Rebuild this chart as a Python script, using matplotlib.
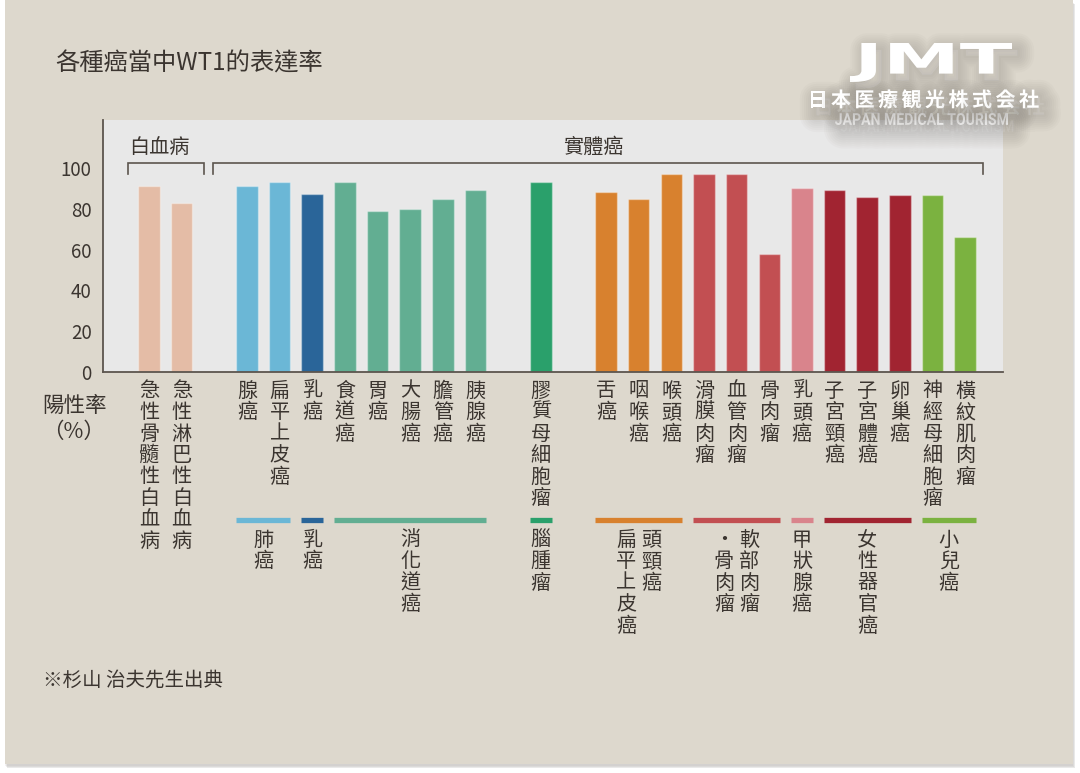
import matplotlib
matplotlib.use("Agg")
import matplotlib.pyplot as plt
import matplotlib.patheffects as pe
from matplotlib.patches import Rectangle, PathPatch
from matplotlib.textpath import TextPath
from matplotlib.font_manager import FontProperties
from matplotlib.transforms import Affine2D, blended_transform_factory

plt.rcParams["font.family"] = ["Noto Sans CJK TC", "DejaVu Sans"]

# ---- data -------------------------------------------------------------
CANCERS = ["急性骨髓性白血病", "急性淋巴性白血病",
           "腺癌", "扁平上皮癌", "乳癌",
           "食道癌", "胃癌", "大腸癌", "膽管癌", "胰腺癌",
           "膠質母細胞瘤",
           "舌癌", "咽喉癌", "喉頭癌",
           "滑膜肉瘤", "血管肉瘤", "骨肉瘤",
           "乳頭癌",
           "子宮頸癌", "子宮體癌", "卵巢癌",
           "神經母細胞瘤", "橫紋肌肉瘤"]
RATES = [91, 83, 91, 93, 87, 93, 79, 80, 85, 89, 93,
         88, 85, 97, 97, 97, 58, 90, 89, 86, 86.5, 86.5, 66]

# sub-groups: label columns (read right to left), bar count, colour
GROUP_COLS = [None, ["肺癌"], ["乳癌"], ["消化道癌"], ["腦腫瘤"],
              ["頭頸癌", "扁平上皮癌"], ["軟部肉瘤", "・骨肉瘤"],
              ["甲狀腺癌"], ["女性器官癌"], ["小兒癌"]]
GROUP_SIZES = [2, 2, 1, 5, 1, 3, 3, 1, 3, 2]
GROUP_COLORS = ["#e4bca6", "#6bb7d6", "#2a6599", "#62ae92", "#2aa06b",
                "#d8812e", "#c24f52", "#d9848c", "#a12431", "#7bb240"]
GAP_AFTER = [0, 3, 4]  # groups followed by an empty slot

Y_TICKS = [0, 20, 40, 60, 80, 100]
TITLE = "各種癌當中WT1的表達率"
NOTE = "※杉山 治夫先生出典"

TXT = "#3b3530"
AXC = "#5c554e"

# ---- layout helpers ----------------------------------------------------
pos, colors, group_span = [], [], []
slot = 0
for gi, n in enumerate(GROUP_SIZES):
    first = len(pos)
    for _ in range(n):
        pos.append(slot)
        colors.append(GROUP_COLORS[gi])
        slot += 1
    group_span.append((first, len(pos) - 1))
    if gi in GAP_AFTER:
        slot += 1

W, H = 1080, 773
fig = plt.figure(figsize=(W / 100, H / 100), dpi=100)
fig.patch.set_facecolor("white")

bg = fig.add_axes([0, 0, 1, 1], zorder=0)
bg.set_xlim(0, W); bg.set_ylim(H, 0); bg.axis("off")
for k, a in enumerate([0.10, 0.14, 0.18]):
    bg.add_patch(Rectangle((5 + k, 2 + k), 1068, 764, fc="#8a8680", ec="none", alpha=a))
bg.add_patch(Rectangle((5, 0), 1068, 764, fc="#ddd8cd", ec="none"))

x0, x1, ytop, ybase = 102.7, 1003, 120, 372
ax = fig.add_axes([x0 / W, 1 - ybase / H, (x1 - x0) / W, (ybase - ytop) / H], zorder=1)
ax.set_facecolor("#e8e8e8")
ax.set_xlim(-1.42, 26.16)
ax.set_ylim(0, 123.5)
ax.bar(pos, RATES, width=0.66, color=colors, edgecolor=(1, 1, 1, 0.35), linewidth=1, zorder=2)
for s in ["top", "right"]:
    ax.spines[s].set_visible(False)
for s in ["left", "bottom"]:
    ax.spines[s].set_color(AXC)
    ax.spines[s].set_linewidth(1.3)
ax.set_xticks([])
ax.set_yticks(Y_TICKS)
ax.tick_params(axis="y", length=0, pad=8, labelsize=13.5, labelcolor=TXT)

# brackets on top
def bracket(xa, xb, label, lx):
    ax.plot([xa, xa, xb, xb], [97, 102.3, 102.3, 97], color=AXC, lw=1.2,
            solid_joinstyle="miter", zorder=3)
    ax.text(lx, 110, label, ha="center", va="center", fontsize=14.5, color=TXT)

bracket(pos[0] - 0.63, pos[1] + 0.68, "白血病", pos[0] + 0.31)
bracket(pos[2] - 1.03, pos[-1] + 0.54, "實體癌", 13.6)

ov = fig.add_axes([0, 0, 1, 1], zorder=3)
ov.set_xlim(0, W); ov.set_ylim(H, 0); ov.axis("off")
ov.patch.set_alpha(0)
blend = blended_transform_factory(ax.transData, ov.transData)

PITCH = 21.5


def vtext(x, y0, s, size=14.5):
    for i, ch in enumerate(s):
        ov.text(x, y0 + i * PITCH, ch, transform=blend, ha="center", va="center",
                fontsize=size, color=TXT)


for p, name in zip(pos, CANCERS):
    vtext(p, 391, name)

bw = 0.66
for gi, cols in enumerate(GROUP_COLS):
    if cols is None:
        continue
    a, b = group_span[gi]
    ov.plot([pos[a] - bw / 2, pos[b] + bw / 2], [520, 520], transform=blend,
            color=GROUP_COLORS[gi], lw=3.8, solid_capstyle="butt")
    c = (pos[a] + pos[b]) / 2
    if len(cols) == 1:
        vtext(c, 540, cols[0])
    else:
        vtext(c + 0.39, 540, cols[0])
        vtext(c - 0.39, 540, cols[1])

# titles and notes
ov.text(55, 63, TITLE, ha="left", va="center", fontsize=17.5, color=TXT)
ov.text(74, 406, "陽性率", ha="center", va="center", fontsize=15.5, color=TXT)
ov.text(74, 432, "（%）", ha="center", va="center", fontsize=15.5, color=TXT)
ov.text(43, 680, NOTE, ha="left", va="center", fontsize=14, color=TXT)

# logo, with a soft drop shadow
shadow = [pe.Stroke(offset=(4, -5), linewidth=w, foreground="#6a655f", alpha=0.03,
                    joinstyle="round", capstyle="round")
          for w in range(3, 27, 3)] + [pe.Normal()]


def fit_text(s, box, prop):
    tp = TextPath((0, 0), s, prop=prop, size=1)
    bb = tp.get_extents()
    bx0, by0, bx1, by1 = box
    tr = Affine2D().translate(-bb.x0, -bb.y0).scale((bx1 - bx0) / bb.width,
                                                    -(by1 - by0) / bb.height).translate(bx0, by1)
    ov.add_patch(PathPatch(tr.transform_path(tp), fc="white", ec="none", path_effects=shadow))


fit_text("JMT", (850, 43, 1012, 82), FontProperties(family="DejaVu Sans", weight="bold"))
fit_text("JAPAN MEDICAL TOURISM", (835, 113, 1008, 125),
         FontProperties(family="Roboto", weight="bold"))
for i, ch in enumerate("日本医療観光株式会社"):
    ov.text(817.5 + i * 23.5, 100, ch, ha="center", va="center", fontsize=14.5,
            color="white", fontweight="bold", family=["Noto Sans CJK JP"],
            path_effects=shadow)

fig.savefig("out.png", dpi=100)
